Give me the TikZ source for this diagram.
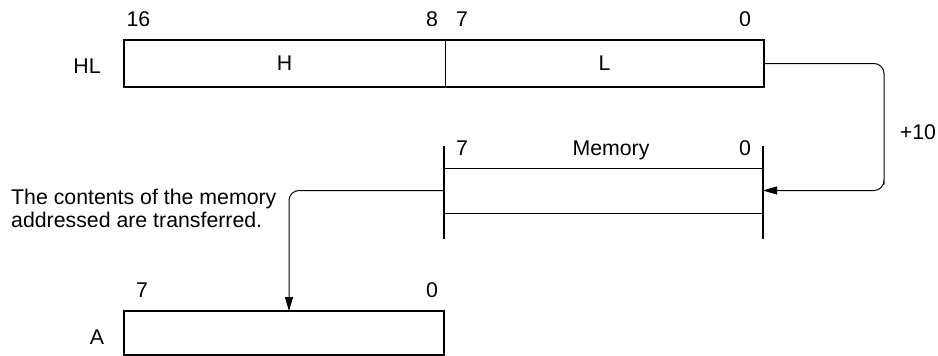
\documentclass[tikz,border=0pt]{standalone}
\usepackage{fontspec}
\setmainfont{Liberation Sans}
\usetikzlibrary{positioning, arrows.meta}

\begin{document}
\begin{tikzpicture}[
  x=1pt, y=-1pt,
  font=\fontsize{21.3}{22}\selectfont,
  field/.style={draw, line width=1pt, minimum height=47pt, inner sep=0pt, outer sep=0pt},
  frame/.style={line width=2pt},
  bitno/.style={inner sep=0pt, anchor=base},
  link/.style={line width=1pt, rounded corners=10pt, -{Triangle[length=14pt, width=8pt]}},
]
\useasboundingbox (0,0) rectangle (938,356);
% register pair HL
\node[field, minimum width=321pt] (regH) at (284.5,63.5) {H};
\node[field, minimum width=319pt] (regL) at (604.5,63.5) {L};
\draw[frame] (regH.north west) rectangle (regL.south east);
\node[bitno] (hlname) at (87,73.5) {HL};
\node[bitno] (hl16) at (138.5,26.5) {16};
\node[bitno] (hl8) at (432,26.5) {8};
\node[bitno] (hl7) at (462,26.5) {7};
\node[bitno] (hl0) at (745,26.5) {0};
% memory cell
\node[minimum width=319pt, minimum height=45pt, inner sep=0pt, outer sep=0pt] (mem) at (603.5,190.5) {};
\draw[line width=1pt] (mem.north west) -- (mem.north east);
\draw[line width=1pt] (mem.south west) -- (mem.south east);
\draw[frame] ([yshift=22pt]mem.north west) -- ([yshift=-26pt]mem.south west);
\draw[frame] ([yshift=22pt]mem.north east) -- ([yshift=-26pt]mem.south east);
\node[bitno] (mem7) at (462,155.5) {7};
\node[bitno] (memname) at (611,155.5) {Memory};
\node[bitno] (mem0) at (745,155.5) {0};
% register A
\node[field, frame, minimum width=320pt, minimum height=44pt] (regA) at (284,333) {};
\node[bitno] (aname) at (97,344.5) {A};
\node[bitno] (a7) at (142,297.5) {7};
\node[bitno] (a0) at (432,297.5) {0};
% address and transfer
\draw[link] (regL.east) -| ([xshift=121pt]mem.east) |- (mem.east);
\node[bitno] (inc) at (918,139.5) {+10};
\draw[link] (mem.west) -| ([xshift=5pt]regA.north);
\node[align=left, anchor=north west, inner sep=0pt, font=\fontsize{21.3}{23}\selectfont] (note) at (11,189)
  {The contents of the memory\\addressed are transferred.};
\end{tikzpicture}
\end{document}
